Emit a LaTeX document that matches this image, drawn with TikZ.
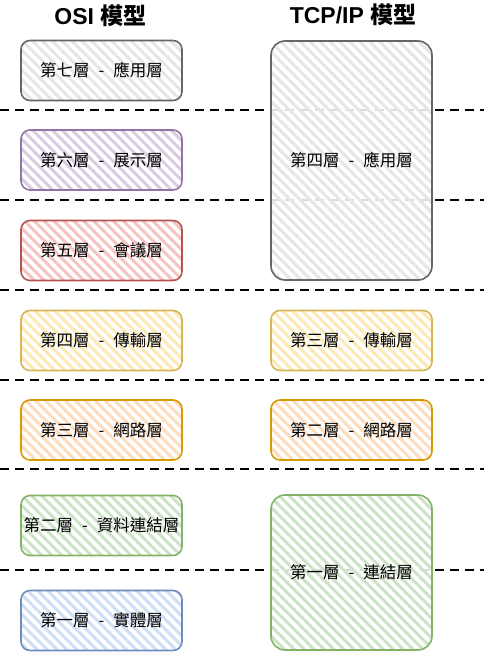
\documentclass[tikz,border=0pt]{standalone}
\usepackage{fontspec}
\setmainfont{Liberation Sans}
\newfontfamily\cjk{Noto Sans CJK TC}
\usetikzlibrary{patterns.meta}

\definecolor{grayline}{HTML}{666666}   \definecolor{grayfill}{HTML}{E6E6E6}
\definecolor{purpleline}{HTML}{9673A6} \definecolor{purplefill}{HTML}{DACBE2}
\definecolor{redline}{HTML}{B85450}    \definecolor{redfill}{HTML}{F6C3C0}
\definecolor{yellowline}{HTML}{D6B656} \definecolor{yellowfill}{HTML}{FCE9B4}
\definecolor{orangeline}{HTML}{D79B00} \definecolor{orangefill}{HTML}{FDDDBC}
\definecolor{greenline}{HTML}{82B366}  \definecolor{greenfill}{HTML}{CDE3C6}
\definecolor{blueline}{HTML}{6C8EBF}   \definecolor{bluefill}{HTML}{CFDFF6}

\newcommand\layerfont{\cjk\fontsize{16.5}{19}\selectfont\spaceskip=0.55em\relax}

\tikzset{
  layer/.style={draw=#1line, line width=1.6pt, rounded corners=9pt,
    minimum width=161pt, minimum height=60pt, inner sep=0pt,
    preaction={fill=white, fill opacity=.85},
    pattern={Lines[angle=-45,distance=7pt,line width=3pt]}, pattern color=#1fill,
    font=\layerfont},
  title/.style={font=\bfseries\fontsize{23}{26}\selectfont},
  border/.style={dashed, dash pattern=on 9pt off 6pt, line width=2.2pt}
}

\begin{document}
\begin{tikzpicture}[x=1pt,y=-1pt]
  \useasboundingbox (0,0) rectangle (484,652);
  % layer borders
  \draw[border] (0,110) -- (484,110);
  \draw[border] (0,200) -- (484,200);
  \draw[border] (0,290) -- (484,290);
  \draw[border] (0,380) -- (484,380);
  \draw[border] (0,469) -- (484,469);
  \draw[border] (0,570) -- (484,570);

  \node[title] (osi) at (100.5,16) {OSI {\cjk\bfseries 模型}};
  \node[title] (tcp) at (353,15) {TCP/IP {\cjk\bfseries 模型}};

  % OSI
  \node[layer=gray]   (osi7) at (101.5,70.5) {第七層 - 應用層};
  \node[layer=purple] (osi6) at (101.5,160)  {第六層 - 展示層};
  \node[layer=red]    (osi5) at (101.5,250.5) {第五層 - 會議層};
  \node[layer=yellow] (osi4) at (101.5,340.5) {第四層 - 傳輸層};
  \node[layer=orange] (osi3) at (101.5,430)  {第三層 - 網路層};
  \node[layer=green]  (osi2) at (101.5,525.5) {第二層 - 資料連結層};
  \node[layer=blue]   (osi1) at (101.5,620.5) {第一層 - 實體層};

  % TCP/IP
  \node[layer=gray, minimum height=239pt, rounded corners=14pt] (tcp4) at (351.5,160.5) {第四層 - 應用層};
  \node[layer=yellow] (tcp3) at (351.5,340.5) {第三層 - 傳輸層};
  \node[layer=orange] (tcp2) at (351.5,430)   {第二層 - 網路層};
  \node[layer=green, minimum height=155pt, rounded corners=14pt] (tcp1) at (351.5,572.5) {第一層 - 連結層};
\end{tikzpicture}
\end{document}
